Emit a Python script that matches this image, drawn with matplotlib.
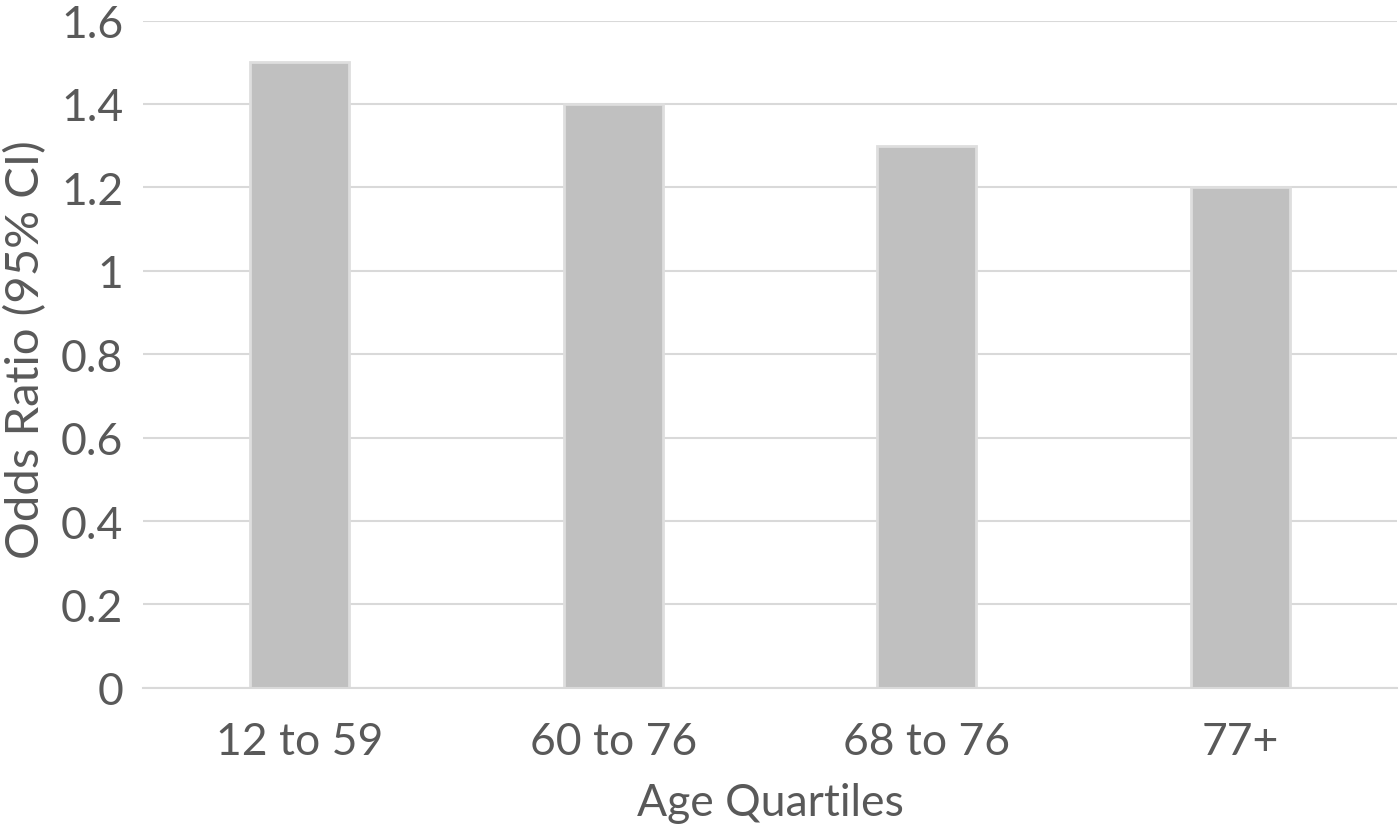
import matplotlib.pyplot as plt

# Odds ratio by age quartile
quartiles = ["12 to 59", "60 to 76", "68 to 76", "77+"]
odds_ratio = [1.5, 1.4, 1.3, 1.2]
y_ticks = [0, 0.2, 0.4, 0.6, 0.8, 1, 1.2, 1.4, 1.6]
y_tick_labels = ["0", "0.2", "0.4", "0.6", "0.8", "1", "1.2", "1.4", "1.6"]

plt.rcParams['font.family'] = ['Lato', 'DejaVu Sans']
TEXT = '#595959'
GRID = '#d9d9d9'

fig = plt.figure(figsize=(14, 8.28), dpi=100)
ax = fig.add_axes([0.102, 0.168, 0.896, 0.806])

x = range(len(quartiles))
ax.bar(x, odds_ratio, width=0.316, color='#c0c0c0', edgecolor='#dedede',
       linewidth=2, zorder=3)

ax.set_xlim(-0.5, len(quartiles) - 0.5)
ax.set_ylim(0, 1.6)
ax.set_yticks(y_ticks)
ax.set_yticklabels(y_tick_labels)
ax.set_xticks(list(x))
ax.set_xticklabels(quartiles)

ax.yaxis.grid(True, color=GRID, linewidth=1.5, zorder=0)
for side in ['top', 'right', 'left']:
    ax.spines[side].set_visible(False)
ax.spines['bottom'].set_color(GRID)
ax.spines['bottom'].set_linewidth(1.5)
ax.spines['bottom'].set_zorder(4)

ax.tick_params(axis='both', length=0, labelsize=32, labelcolor=TEXT)
ax.tick_params(axis='y', pad=14)
ax.tick_params(axis='x', pad=24)

# y label placed by hand so it sits at the left edge like the original
fig.text(26 / 1400, 1 - 350 / 828, 'Odds Ratio (95% CI)', rotation=90,
         ha='center', va='center', fontsize=34, color=TEXT)
ax.set_xlabel('Age Quartiles', fontsize=32, color=TEXT, labelpad=14)

fig.savefig('out.png', dpi=100)
